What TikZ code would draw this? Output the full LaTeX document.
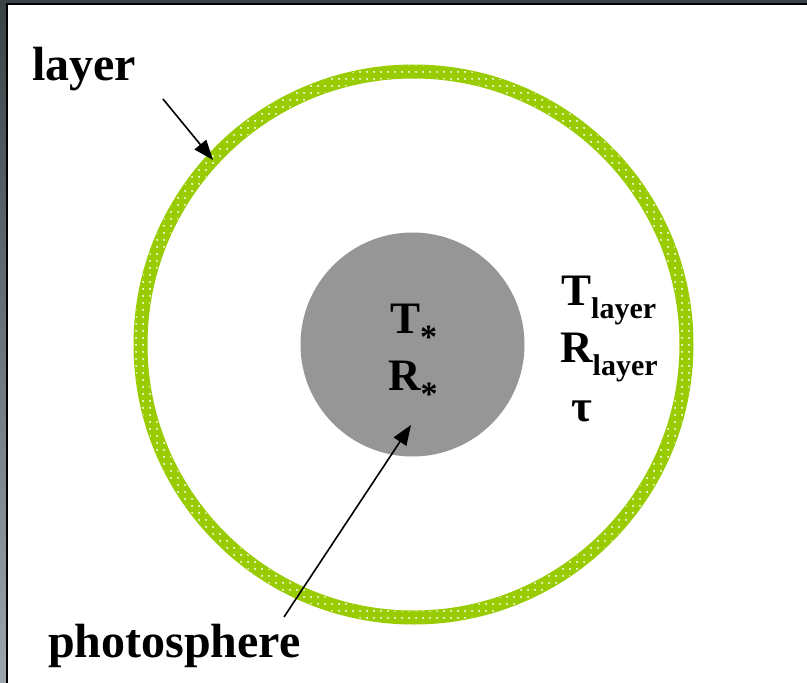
\documentclass[tikz,border=0pt]{standalone}
\usepackage{fontspec}
\setmainfont{Liberation Serif}
\usetikzlibrary{arrows.meta,patterns.meta}
\definecolor{ringgreen}{HTML}{99CC00}
\definecolor{coregray}{HTML}{969696}
\definecolor{framedark}{HTML}{3A4246}
\definecolor{framelight}{HTML}{9AA5AD}
\tikzset{
  big/.style={font=\fontsize{45}{48}\selectfont\bfseries, inner sep=0pt, anchor=base west},
  label48/.style={font=\fontsize{48}{52}\selectfont\bfseries, inner sep=0pt, anchor=base west},
  pointer/.style={line width=1.6pt, -{Triangle[length=20pt,width=15pt]}},
}
\newcommand{\subL}{\raisebox{-13pt}{\fontsize{30}{32}\selectfont layer}}
\newcommand{\subS}{\raisebox{-15pt}{\fontsize{34}{36}\selectfont *}}
\begin{document}
\begin{tikzpicture}[x=1pt,y=-1pt]
\useasboundingbox (0,0) rectangle (807,683);
\fill[white] (0,0) rectangle (807,683);
% frame
\shade[top color=framedark, bottom color=framelight] (0,0) rectangle (6,683);
\fill[framedark] (0,0) rectangle (807,3);
\draw[black, line width=2.2pt] (7.2,683) -- (7.2,4) -- (807,4);
% ring
\fill[ringgreen, even odd rule] (413.5,344.5) circle[radius=280] (413.5,344.5) circle[radius=266];
\fill[pattern={Dots[radius=1.1pt,distance=6.5pt]}, pattern color=white, even odd rule]
  (413.5,344.5) circle[radius=279] (413.5,344.5) circle[radius=267];
% core
\fill[coregray] (412.5,344.5) circle[radius=112];
% texts
\node[label48] (ltxt) at (32,80) {layer};
\node[label48] (ptxt) at (48,657) {photosphere};
\node[big] (tstar) at (390,333) {T\subS};
\node[big] (rstar) at (388,390) {R\subS};
\node[big] (tlay) at (561,305) {T\subL};
\node[big] (rlay) at (560,362) {R\subL};
\node[big] (tau) at (571,421) {τ};
% arrows
\coordinate (la0) at (163,99);
\coordinate (la1) at (213,160);
\coordinate (pa0) at (284,617);
\coordinate (pa1) at (411,425);
\draw[pointer] (la0) -- (la1);
\draw[pointer] (pa0) -- (pa1);
\end{tikzpicture}
\end{document}
